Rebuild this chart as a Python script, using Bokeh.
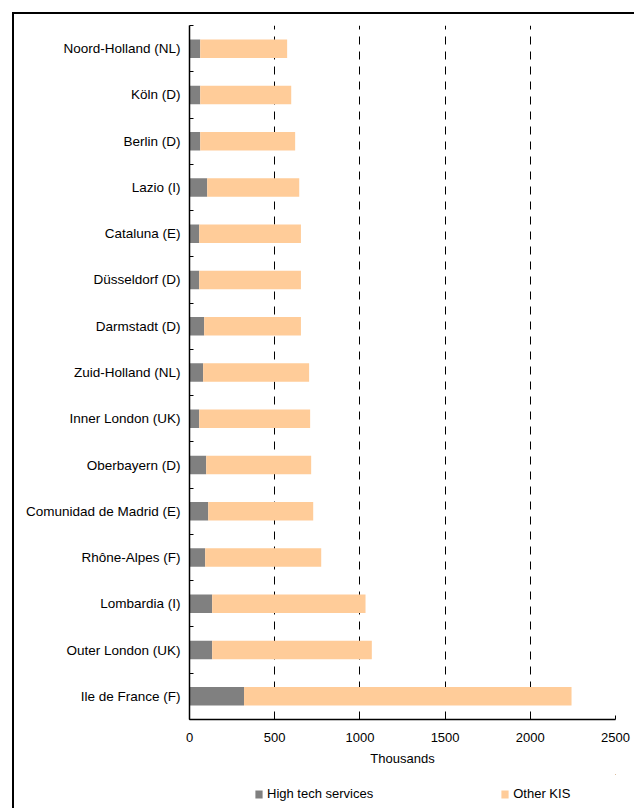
import numpy as np
from bokeh.plotting import figure
from bokeh.layouts import column
from bokeh.models import (FixedTicker, Legend, LegendItem, ColumnDataSource, Range1d)
from bokeh.embed import file_html
from bokeh.resources import INLINE

regions = ["Noord-Holland (NL)", "Köln (D)", "Berlin (D)", "Lazio (I)", "Cataluna (E)",
           "Düsseldorf (D)", "Darmstadt (D)", "Zuid-Holland (NL)", "Inner London (UK)",
           "Oberbayern (D)", "Comunidad de Madrid (E)", "Rhône-Alpes (F)", "Lombardia (I)",
           "Outer London (UK)", "Ile de France (F)"]
high_tech = [63, 63, 63, 104, 57, 57, 86, 80, 57, 98, 110, 92, 133, 133, 320]
total_kis = [573, 597, 620, 644, 654, 654, 654, 702, 708, 714, 726, 773, 1033, 1070, 2242]
other_kis = [t - h for t, h in zip(total_kis, high_tech)]
x_ticks = [0, 500, 1000, 1500, 2000, 2500]
series_names = ["High tech services", "Other KIS"]
series_colors = ["#808080", "#FFCC99"]

FONT = "Liberation Sans"
n = len(regions)
ypos = [n - i - 0.5 for i in range(n)]

src = ColumnDataSource(dict(y=ypos, ht=high_tech, tot=total_kis, zero=[0] * n))

p = figure(width=620, height=760, output_backend="svg", toolbar_location=None,
           x_range=Range1d(0, 2500), y_range=Range1d(0, n),
           min_border_left=175, min_border_right=19, min_border_top=11, min_border_bottom=55)
p.outline_line_color = None
p.background_fill_color = "white"

r1 = p.hbar(y="y", left="zero", right="ht", height=0.4, source=src,
            fill_color=series_colors[0], line_color=None)
r2 = p.hbar(y="y", left="ht", right="tot", height=0.4, source=src,
            fill_color=series_colors[1], line_color=None)

# axes
xa = p.xaxis[0]
xa.ticker = FixedTicker(ticks=x_ticks)
xa.major_tick_in = 4
xa.major_tick_out = 0
xa.minor_tick_line_color = None
xa.axis_line_color = "black"
xa.axis_line_width = 1.5
xa.major_tick_line_color = "black"
xa.major_label_text_font = FONT
xa.major_label_text_font_size = "13px"
xa.major_label_text_color = "black"
xa.major_label_standoff = 13
xa.axis_label = "Thousands"
xa.axis_label_text_font = FONT
xa.axis_label_text_font_size = "13px"
xa.axis_label_text_font_style = "normal"
xa.axis_label_text_color = "black"
xa.axis_label_standoff = 6

ya = p.yaxis[0]
ya.ticker = FixedTicker(ticks=ypos, minor_ticks=list(range(n + 1)))
ya.major_label_overrides = {y: r for y, r in zip(ypos, regions)}
ya.major_tick_in = 0
ya.major_tick_out = 0
ya.minor_tick_in = 4
ya.minor_tick_out = 0
ya.minor_tick_line_color = "black"
ya.axis_line_color = "black"
ya.axis_line_width = 1.5
ya.major_label_text_font = FONT
ya.major_label_text_font_size = "13.5px"
ya.major_label_text_color = "black"
ya.major_label_standoff = 9

p.ygrid.grid_line_color = None
p.xgrid.ticker = FixedTicker(ticks=x_ticks[1:])
p.xgrid.grid_line_color = "black"
p.xgrid.grid_line_dash = "8 7"
p.xgrid.grid_line_width = 1

# legend strip below the chart (its own figure; the series glyphs lie far outside its view)
lf = figure(width=620, height=34, output_backend="svg", toolbar_location=None,
            x_range=Range1d(-100000, -97500), y_range=Range1d(-1000, -999),
            x_axis_type=None, y_axis_type=None,
            min_border_left=0, min_border_right=0, min_border_top=0, min_border_bottom=0)
lf.outline_line_color = None
lf.xgrid.grid_line_color = None
lf.ygrid.grid_line_color = None
lsrc = ColumnDataSource(dict(y=ypos, ht=high_tech, tot=total_kis, zero=[0] * n))
lr1 = lf.hbar(y="y", left="zero", right="ht", height=0.4, source=lsrc,
              fill_color=series_colors[0], line_color=None)
lr2 = lf.hbar(y="y", left="ht", right="tot", height=0.4, source=lsrc,
              fill_color=series_colors[1], line_color=None)
items = [LegendItem(label=series_names[0], renderers=[lr1]),
         LegendItem(label=series_names[1], renderers=[lr2])]

legend = Legend(items=items, location=(65, 7), orientation="horizontal",
                padding=0, margin=0, spacing=127, label_width=102,
                glyph_width=9, glyph_height=10, label_height=10,
                label_standoff=4, border_line_color=None,
                background_fill_alpha=0,
                label_text_font=FONT, label_text_font_size="13px",
                label_text_color="black")
lf.add_layout(legend)

layout = column(p, lf, spacing=0)
layout.styles = {"border-left": "2px solid black", "border-top": "2px solid black",
                 "margin-left": "12px", "margin-top": "12px"}

open("out.html", "w").write(file_html(layout, INLINE))
